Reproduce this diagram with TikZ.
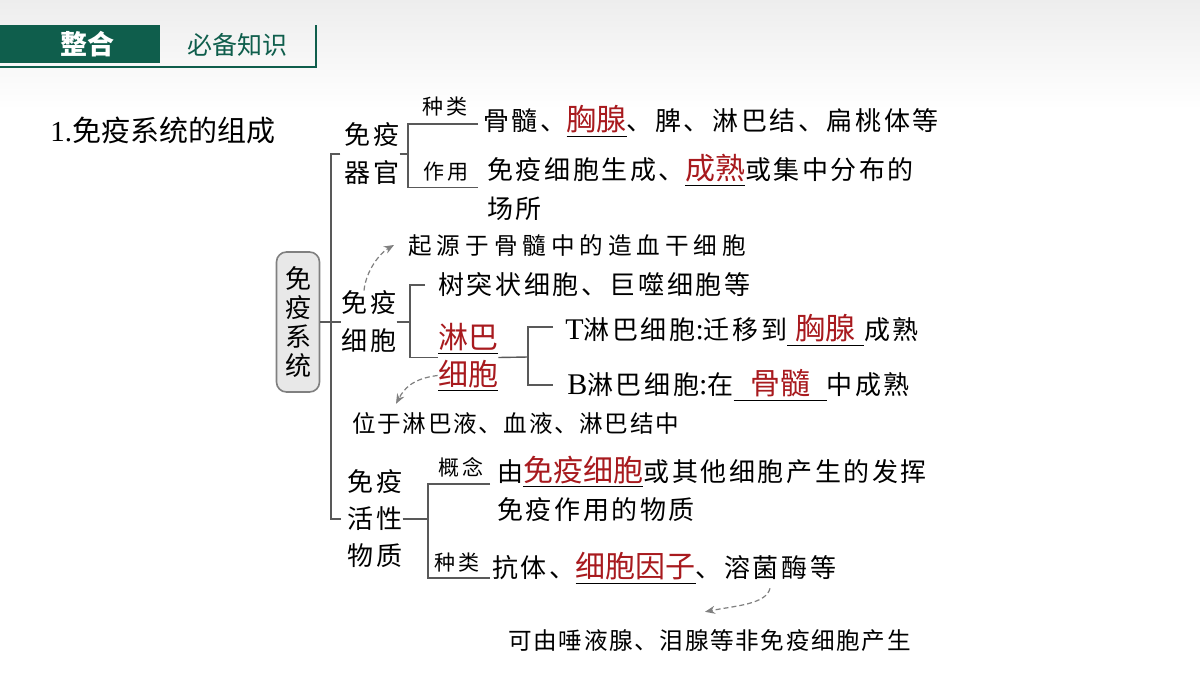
\documentclass[tikz,border=0pt]{standalone}
\usepackage{fontspec}
\usetikzlibrary{arrows.meta}
\newfontfamily\zh[LetterSpace=10]{Noto Sans CJK SC}
\newfontfamily\zhk{Noto Sans CJK SC}
\newfontfamily\lat{Liberation Serif}
\definecolor{hdgreen}{HTML}{0F5E4C}
\definecolor{keyred}{HTML}{A81A1E}
\definecolor{brgray}{HTML}{595959}
\newcommand\key[1]{\underline{\textcolor{keyred}{\zhk\fontsize{15}{18}\selectfont #1}}}
\newcommand\blank[2]{\underline{\makebox[#1]{\textcolor{keyred}{\zhk\fontsize{15}{18}\selectfont #2}}}}
\newcommand\latn[1]{{\lat\fontsize{15}{18}\selectfont #1}}
\begin{document}
\begin{tikzpicture}[x=0.5pt, y=-0.5pt,
txt/.style={anchor=west, inner sep=0pt, font=\zh\fontsize{13}{19}\selectfont, text height=11.4pt, text depth=1.6pt},
two/.style={anchor=west, inner sep=0pt, align=left, font=\zh\fontsize{13}{19.25}\selectfont},
head/.style={inner sep=0pt, align=center, font=\zh\fontsize{13}{19}\selectfont},
tag/.style={inner sep=0pt, font=\zh\fontsize{10.5}{12}\selectfont},
note/.style={txt, font=\zh\fontsize{11.8}{14}\selectfont\addfontfeature{LetterSpace=7}, text height=10.4pt, text depth=1.4pt},
notewide/.style={note, font=\zh\fontsize{11.8}{14}\selectfont\addfontfeature{LetterSpace=21}},
br/.style={draw=brgray, line width=0.7pt},
hint/.style={draw=gray, dash pattern=on 2.5pt off 1.5pt, line width=0.6pt, -{Stealth[length=5pt,width=4pt]}}]
\useasboundingbox (0,0) rectangle (1200,675);
\fill[white] (0,0) rectangle (1200,675);
\fill[top color=gray!14, bottom color=white] (0,0) rectangle (1200,110);
\fill[hdgreen] (0,25) rectangle (160,63);
\node[text=white, font=\zhk\bfseries\fontsize{13.5}{16}\selectfont] (hd) at (88,44) {整合};
\node[text=hdgreen, font=\zhk\fontsize{12.5}{15}\selectfont] (hdsub) at (237,45) {必备知识};
\draw[hdgreen, line width=0.8pt] (0,67) -- (316,67) -- (316,25);
\node[anchor=west, inner sep=0pt, font=\zhk\fontsize{14.5}{17}\selectfont] (title) at (50,130) {{\lat 1.}免疫系统的组成};
\node[draw=gray, line width=0.8pt, fill=gray!18, rounded corners=5pt, minimum width=21.5pt, minimum height=70pt,
  inner sep=0pt, align=center, font=\zh\fontsize{13}{14.5}\selectfont] (sys) at (298,322) {免\\疫\\系\\统};
\node[head] (organ) at (372,154) {免疫\\器官};
\node[head] (cell) at (369,322) {免疫\\细胞};
\node[head, font=\zh\fontsize{13}{18.5}\selectfont] (active) at (375,519) {免疫\\活性\\物质};
\coordinate (spine) at (331,322);
\draw[br] (sys.east) -- (cell.west);
\draw[br] ([xshift=-2pt]organ.west) -| (spine) |- ([xshift=-3pt]active.west);
\node[tag] (okind) at (445,107) {种类};
\node[tag] (ouse) at (446,172) {作用};
\node[txt] (o1) at (483,121) {骨髓、\key{胸腺}、脾、淋巴结、扁桃体等};
\node[two] (o2) at (487,187.5) {免疫细胞生成、\key{成熟}或集中分布的\\场所};
\coordinate (oj) at (408,154);
\draw[br] (organ.east) -- (oj);
\draw[br] ([xshift=-2.5pt,yshift=-1.5pt]o1.west) -| (oj) |- ([xshift=-4.5pt]o2.west);
\node[notewide] (c0) at (408,245) {起源于骨髓中的造血干细胞};
\draw[hint] ([xshift=-2.5pt]cell.north) .. controls +(2,-20) and +(-14,8) .. ([xshift=-7pt]c0.west);
\node[txt] (c1) at (438,285) {树突状细胞、巨噬细胞等};
\node[inner sep=0pt, align=center, font=\zhk\fontsize{15}{18.5}\selectfont] (lym) at (468,357.5) {\key{淋巴}\\\key{细胞}};
\coordinate (cj) at (410,322);
\draw[br] (cell.east) -- (cj);
\draw[br] ([xshift=-6.5pt]c1.west) -| (cj) |- (lym.west);
\node[txt] (tcell) at (565,330) {\latn{T}淋巴细胞\latn{:}迁移到\blank{38.5pt}{胸腺}成熟};
\node[txt] (bcell) at (567,385) {\latn{B}淋巴细胞\latn{:}在\blank{46.5pt}{骨髓}中成熟};
\coordinate (lj) at (528,357);
\draw[br] (lym.east) -- (lj);
\draw[br] ([xshift=-6pt,yshift=1.5pt]tcell.west) -| (lj) |- ([xshift=-7pt]bcell.west);
\node[note] (c2) at (352,423) {位于淋巴液、血液、淋巴结中};
\draw[hint] ([yshift=-9pt]lym.west) .. controls +(-25,3) and +(8,-15) .. ([xshift=22pt,yshift=3.5pt]c2.north west);
\node[tag] (akind) at (461,467) {概念};
\node[tag] (atype) at (457,563) {种类};
\node[two] (a1) at (497,489) {由\key{免疫细胞}或其他细胞产生的发挥\\免疫作用的物质};
\node[txt] (a2) at (492,568) {抗体、\key{细胞因子}、溶菌酶等};
\coordinate (aj) at (428,519);
\draw[br] (active.east) -- (aj);
\draw[br] ([xshift=-3.5pt,yshift=2.5pt]a1.west) -| (aj) |- ([xshift=-1pt,yshift=-5pt]a2.west);
\node[note] (a3) at (508,640) {可由唾液腺、泪腺等非免疫细胞产生};
\draw[hint] ([xshift=139pt,yshift=-3.5pt]a2.south west) .. controls +(-4,16) and +(30,-6) .. ([xshift=98.5pt,yshift=8pt]a3.north west);
\end{tikzpicture}
\end{document}
